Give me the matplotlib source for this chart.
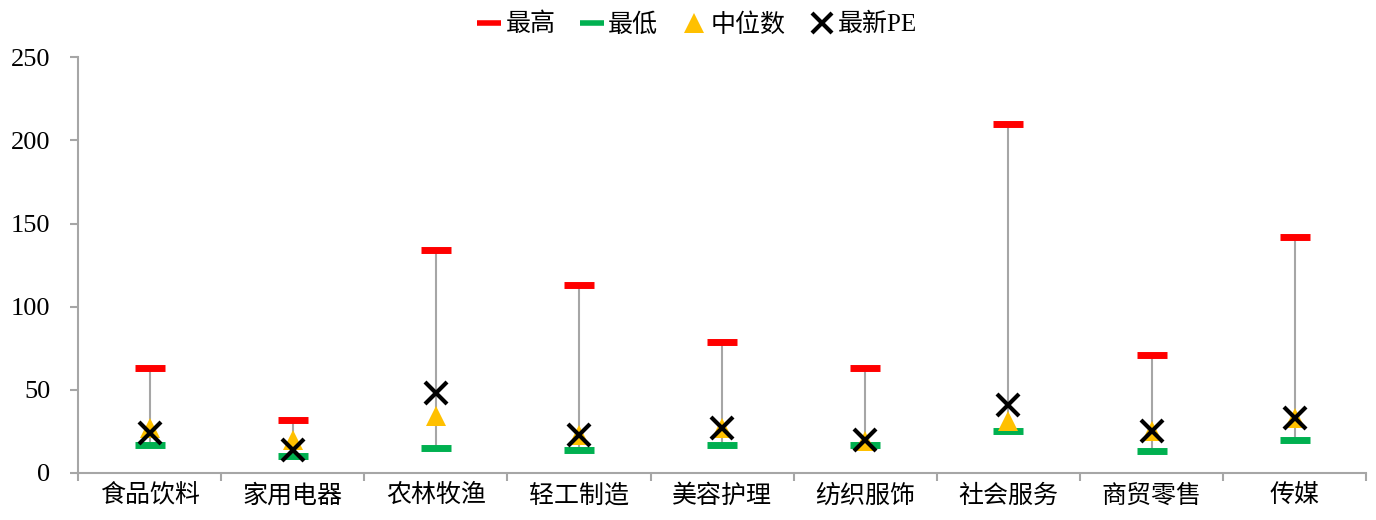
import matplotlib
matplotlib.use('Agg')
import matplotlib.pyplot as plt
from matplotlib.lines import Line2D
import numpy as np

plt.rcParams['font.family'] = ['Liberation Serif', 'Noto Sans CJK SC']

# 行业PE数据
categories = ['食品饮料', '家用电器', '农林牧渔', '轻工制造', '美容护理',
              '纺织服饰', '社会服务', '商贸零售', '传媒']
pe_max = [63, 32, 134, 113, 79, 63, 210, 71, 142]
pe_min = [17, 10, 15, 14, 17, 17, 25, 13, 20]
pe_median = [27, 20, 34, 23, 27, 19, 31, 25, 33]
pe_latest = [24, 14, 48, 23, 27, 20, 41, 25, 33]

x = np.arange(len(categories))

fig = plt.figure(figsize=(13.76, 5.2), dpi=100)
ax = fig.add_axes([0.0567, 0.0904, 0.9363, 0.7996])

# 最高-最低连线
ax.vlines(x, pe_min, pe_max, color='#a6a6a6', linewidth=1.5, zorder=1)

ax.plot(x, pe_max, linestyle='none', marker='_', markersize=22,
        markeredgewidth=5, color='#ff0000', zorder=2)
ax.plot(x, pe_min, linestyle='none', marker='_', markersize=22,
        markeredgewidth=5, color='#00b050', zorder=2)
ax.plot(x, pe_median, linestyle='none', marker='^', markersize=14,
        color='#ffc000', markeredgewidth=0, zorder=3)
ax.plot(x, pe_latest, linestyle='none', marker='x', markersize=16,
        markeredgewidth=3, color='black', zorder=4)

ax.set_xlim(-0.5, len(categories) - 0.5)
ax.set_ylim(0, 250)
ax.set_yticks(range(0, 251, 50))

# x轴刻度放在类别之间
ax.set_xticks(np.arange(-0.5, len(categories), 1.0))
ax.set_xticklabels([])
ax.set_xticks(x, minor=True)
ax.set_xticklabels(categories, minor=True, fontsize=18)
ax.tick_params(axis='x', which='minor', length=0, pad=8)
ax.tick_params(axis='x', which='major', length=6, color='#a6a6a6', width=1.5)
ax.tick_params(axis='y', length=6, color='#a6a6a6', width=1.5, labelsize=19, pad=14)

for side in ['top', 'right']:
    ax.spines[side].set_visible(False)
for side in ['left', 'bottom']:
    ax.spines[side].set_color('#a6a6a6')
    ax.spines[side].set_linewidth(1.5)

# 图例
handles = [
    Line2D([], [], linestyle='none', marker='_', markersize=17, markeredgewidth=4, color='#ff0000'),
    Line2D([], [], linestyle='none', marker='_', markersize=17, markeredgewidth=4, color='#00b050'),
    Line2D([], [], linestyle='none', marker='^', markersize=14, markeredgewidth=0, color='#ffc000'),
    Line2D([], [], linestyle='none', marker='x', markersize=14, markeredgewidth=3, color='black'),
]
ax.legend(handles, ['最高', '最低', '中位数', '最新PE'], loc='lower center',
          bbox_to_anchor=(0.481, 1.02), ncol=4, frameon=False,
          fontsize=18, handlelength=0.9, handletextpad=0.2, columnspacing=1.0,
          borderaxespad=0.1)

fig.savefig('out.png', dpi=100)
